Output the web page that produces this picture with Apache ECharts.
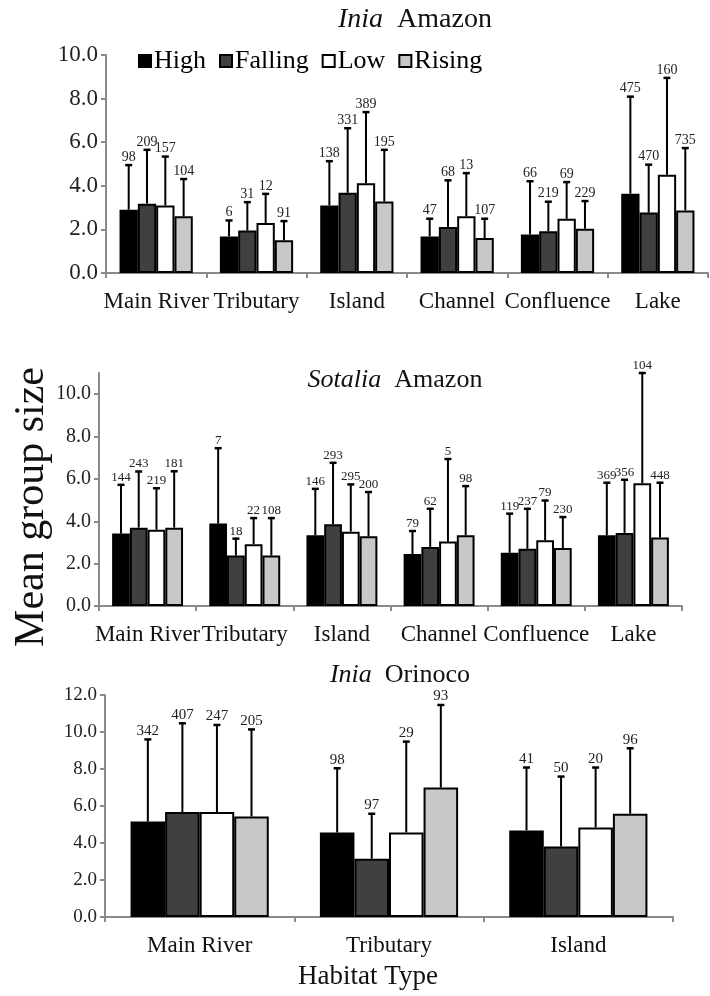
<!DOCTYPE html>
<html>
<head>
<meta charset="utf-8">
<script src="https://cdn.jsdelivr.net/npm/echarts@6/dist/echarts.min.js"></script>
<style>
html,body{margin:0;padding:0;background:#fff;}
#chart{width:710px;height:996px;}
</style>
</head>
<body>
<div id="chart"></div>
<script>
// ---------- DATA ----------
const seasons = ['High', 'Falling', 'Low', 'Rising'];
const amazonCats = ['Main River', 'Tributary', 'Island', 'Channel', 'Confluence', 'Lake'];
const orinocoCats = ['Main River', 'Tributary', 'Island'];
const yTicks1 = [0, 2, 4, 6, 8, 10];
const yTicks2 = [0, 2, 4, 6, 8, 10];
const yTicks3 = [0, 2, 4, 6, 8, 10, 12];

// Inia Amazon
const iaHigh = [2.90, 1.68, 3.10, 1.68, 1.77, 3.64];
const iaHighErr = [4.95, 2.41, 5.13, 2.49, 4.21, 8.09];
const iaHighN = [98, 6, 138, 47, 66, 475];
const iaFall = [3.18, 1.95, 3.68, 2.11, 1.92, 2.77];
const iaFallErr = [5.65, 3.25, 6.64, 4.25, 3.27, 4.97];
const iaFallN = [209, 31, 331, 68, 219, 470];
const iaLow = [3.10, 2.29, 4.12, 2.60, 2.49, 4.51];
const iaLowErr = [5.34, 3.63, 7.38, 4.58, 4.17, 8.95];
const iaLowN = [157, 12, 389, 13, 69, 160];
const iaRise = [2.60, 1.50, 3.28, 1.60, 2.03, 2.87];
const iaRiseErr = [4.31, 2.38, 5.65, 2.49, 3.30, 5.73];
const iaRiseN = [104, 91, 195, 107, 229, 735];

// Sotalia Amazon
const saHigh = [3.42, 3.89, 3.34, 2.45, 2.51, 3.34];
const saHighErr = [5.72, 7.45, 5.53, 3.54, 4.36, 5.82];
const saHighN = [144, 7, 146, 79, 119, 369];
const saFall = [3.70, 2.38, 3.86, 2.79, 2.70, 3.45];
const saFallErr = [6.35, 3.18, 6.76, 4.59, 4.59, 5.96];
const saFallN = [243, 18, 293, 62, 237, 356];
const saLow = [3.60, 2.92, 3.51, 3.04, 3.10, 5.80];
const saLowErr = [5.56, 4.15, 5.74, 6.94, 4.98, 11.0];
const saLowN = [219, 22, 295, 5, 79, 104];
const saRise = [3.70, 2.38, 3.29, 3.34, 2.74, 3.23];
const saRiseErr = [6.36, 4.15, 5.38, 5.66, 4.20, 5.82];
const saRiseN = [181, 108, 200, 98, 230, 448];

// Inia Orinoco
const ioHigh = [5.16, 4.57, 4.68];
const ioHighErr = [9.60, 8.04, 8.08];
const ioHighN = [342, 98, 41];
const ioFall = [5.67, 3.15, 3.81];
const ioFallErr = [10.47, 5.58, 7.59];
const ioFallN = [407, 97, 50];
const ioLow = [5.67, 4.57, 4.84];
const ioLowErr = [10.38, 9.48, 8.08];
const ioLowN = [247, 29, 20];
const ioRise = [5.43, 7.00, 5.58];
const ioRiseErr = [10.14, 11.46, 9.12];
const ioRiseN = [205, 93, 96];

// ---------- STYLE ----------
const FONT = '"Liberation Serif", "Times New Roman", serif';
const seasonColors = ['#000000', '#404040', '#ffffff', '#c8c8c8'];
const GAP = 0.27;
const AXIS_COLOR = '#8a8a8a';

const panels = [
  { cats: amazonCats, ticks: yTicks1, max: 10, tickFont: 23, nFont: 14,
    means: [iaHigh, iaFall, iaLow, iaRise], errs: [iaHighErr, iaFallErr, iaLowErr, iaRiseErr],
    ns: [iaHighN, iaFallN, iaLowN, iaRiseN],
    grid: { left: 106, top: 55, width: 602, height: 218 } },
  { cats: amazonCats, ticks: yTicks2, max: 11, tickFont: 20, nFont: 13,
    means: [saHigh, saFall, saLow, saRise], errs: [saHighErr, saFallErr, saLowErr, saRiseErr],
    ns: [saHighN, saFallN, saLowN, saRiseN],
    grid: { left: 99, top: 373, width: 583, height: 233 } },
  { cats: orinocoCats, ticks: yTicks3, max: 12, tickFont: 19, nFont: 15,
    means: [ioHigh, ioFall, ioLow, ioRise], errs: [ioHighErr, ioFallErr, ioLowErr, ioRiseErr],
    ns: [ioHighN, ioFallN, ioLowN, ioRiseN],
    grid: { left: 105, top: 695, width: 568, height: 222 } }
];

const grids = [], xAxes = [], yAxes = [], series = [];

panels.forEach((p, pi) => {
  grids.push(Object.assign({ containLabel: false }, p.grid));
  xAxes.push({
    type: 'category', gridIndex: pi, data: p.cats,
    axisLine: { lineStyle: { color: AXIS_COLOR, width: 2 } },
    axisTick: { show: true, inside: false, length: 5, lineStyle: { color: AXIS_COLOR, width: 2 } },
    axisLabel: { fontFamily: FONT, fontSize: 23, color: '#111', margin: 17, interval: 0 },
    splitLine: { show: false }
  });
  yAxes.push({
    type: 'value', gridIndex: pi, min: 0, max: p.max, interval: 2,
    axisLine: { show: true, lineStyle: { color: AXIS_COLOR, width: 2 } },
    axisTick: { show: true, inside: false, length: 5, lineStyle: { color: AXIS_COLOR, width: 2 }, customValues: p.ticks },
    axisLabel: { fontFamily: FONT, fontSize: p.tickFont, color: '#222', margin: 8, customValues: p.ticks,
      formatter: v => (p.ticks.indexOf(v) >= 0 ? v.toFixed(1) : '') },
    splitLine: { show: false }
  });

  seasons.forEach((s, k) => {
    series.push({
      type: 'bar', name: s, xAxisIndex: pi, yAxisIndex: pi,
      data: p.means[k],
      barGap: 0, barCategoryGap: (GAP * 100) + '%',
      itemStyle: { color: seasonColors[k], borderColor: '#000', borderWidth: 2 },
      z: 2
    });
  });

  seasons.forEach((s, k) => {
    const data = p.means[k].map((m, i) => [i, m, p.errs[k][i], p.ns[k][i]]);
    series.push({
      type: 'custom', name: s + ' err', xAxisIndex: pi, yAxisIndex: pi,
      data: data, encode: { x: 0, y: 2 }, z: 5, silent: true,
      renderItem: function (params, api) {
        const ci = api.value(0);
        const pm = api.coord([ci, api.value(1)]);
        const pu = api.coord([ci, api.value(2)]);
        const band = api.size([1, 0])[0];
        const bw = band * (1 - GAP) / 4;
        const cx = pm[0] + (k - 1.5) * bw;
        const top = pu[1];
        return {
          type: 'group',
          children: [
            { type: 'line', shape: { x1: cx, y1: pm[1], x2: cx, y2: top },
              style: { stroke: '#000', lineWidth: 2 } },
            { type: 'line', shape: { x1: cx - 3.5, y1: top, x2: cx + 3.5, y2: top },
              style: { stroke: '#000', lineWidth: 2.5 } },
            { type: 'text', x: cx, y: top - 1,
              style: { text: String(api.value(3)), font: p.nFont + 'px ' + FONT, fill: '#222',
                align: 'center', verticalAlign: 'bottom' } }
          ]
        };
      }
    });
  });
});

const chart = echarts.init(document.getElementById('chart'), null, { renderer: 'canvas' });
chart.setOption({
  animation: false,
  backgroundColor: '#fff',
  grid: grids,
  xAxis: xAxes,
  yAxis: yAxes,
  legend: {
    data: seasons, left: 133, top: 43, orient: 'horizontal',
    itemWidth: 12, itemHeight: 12, itemGap: 13,
    icon: 'rect',
    textStyle: { fontFamily: FONT, fontSize: 26, color: '#000', padding: [0, 0, 0, -2] },
    selectedMode: false
  },
  graphic: [
    { type: 'text', x: 415, y: 20, style: { text: '{i|Inia}  Amazon', font: '28px ' + FONT, fill: '#111',
      align: 'center', verticalAlign: 'middle',
      rich: { i: { fontStyle: 'italic', fontFamily: FONT, fontSize: 28, fill: '#111' } } } },
    { type: 'text', x: 395, y: 380, style: { text: '{i|Sotalia}  Amazon', font: '26px ' + FONT, fill: '#111',
      align: 'center', verticalAlign: 'middle',
      rich: { i: { fontStyle: 'italic', fontFamily: FONT, fontSize: 26, fill: '#111' } } } },
    { type: 'text', x: 400, y: 675, style: { text: '{i|Inia}  Orinoco', font: '26px ' + FONT, fill: '#111',
      align: 'center', verticalAlign: 'middle',
      rich: { i: { fontStyle: 'italic', fontFamily: FONT, fontSize: 26, fill: '#111' } } } },
    { type: 'text', x: 32, y: 507, rotation: Math.PI / 2,
      style: { text: 'Mean group size', font: '42px ' + FONT, fill: '#111', align: 'center', verticalAlign: 'middle' } },
    { type: 'text', x: 368, y: 977,
      style: { text: 'Habitat Type', font: '27px ' + FONT, fill: '#111', align: 'center', verticalAlign: 'middle' } }
  ],
  series: series
});
</script>
</body>
</html>
